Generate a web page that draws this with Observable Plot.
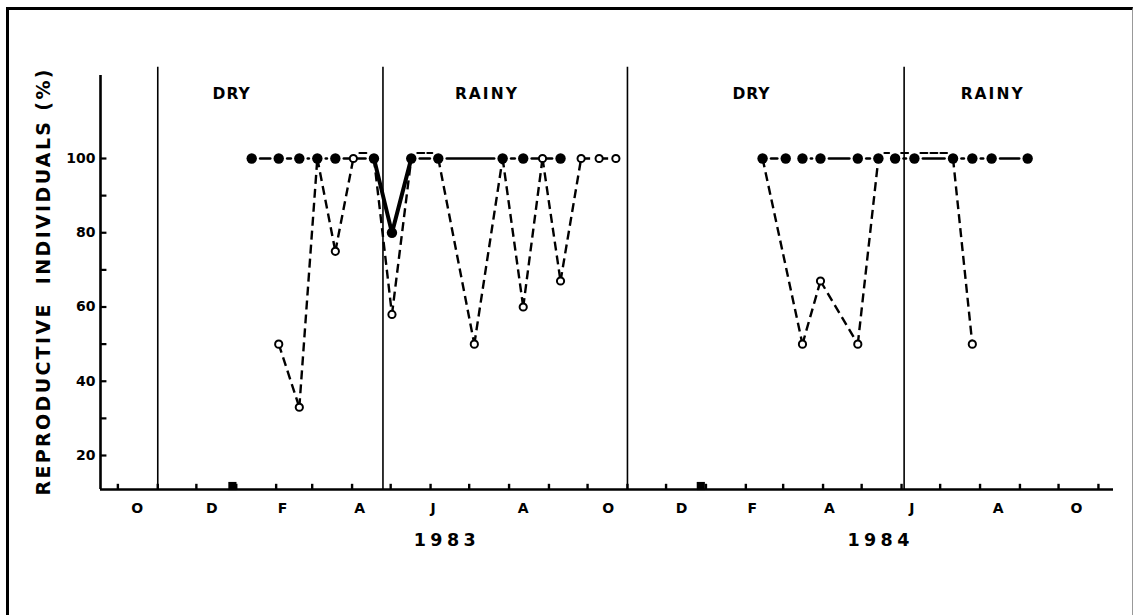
<!DOCTYPE html>
<html>
<head>
<meta charset="utf-8">
<script src="https://cdn.jsdelivr.net/npm/d3@7"></script>
<script src="https://cdn.jsdelivr.net/npm/@observablehq/plot@0.6"></script>
<style>
html, body { margin: 0; padding: 0; background: #fff; }
#wrap { position: relative; width: 1133px; height: 615px; overflow: hidden; }
#border { position: absolute; left: 6px; top: 7px; width: 1127px; height: 640px; box-sizing: border-box;
  border-left: 3px solid #000; border-top: 3px solid #000; border-right: 1px solid #999; }
#chart { position: absolute; left: 0; top: 0; }
#chart svg text { font-family: "DejaVu Sans", "Liberation Sans", sans-serif; font-weight: bold; fill: #000; }
</style>
</head>
<body>
<div id="wrap"><div id="border"></div><div id="chart"></div></div>
<script>
// ---- data ----
const filledDates = ["1983-01-13","1983-02-03","1983-02-19","1983-03-05","1983-03-19","1983-04-18","1983-05-02","1983-05-17","1983-06-07","1983-07-27","1983-08-12","1983-09-10",
  "1984-02-14","1984-03-03","1984-03-16","1984-03-30","1984-04-28","1984-05-14","1984-05-27","1984-06-11","1984-07-11","1984-07-26","1984-08-10","1984-09-07"];
const filledValues = [100,100,100,100,100,100,80,100,100,100,100,100,
  100,100,100,100,100,100,100,100,100,100,100,100];

const openDates = ["1983-02-03","1983-02-19","1983-03-05","1983-03-19","1983-04-02","1983-04-18","1983-05-02","1983-05-17","1983-06-07","1983-07-05","1983-07-27","1983-08-12","1983-08-27","1983-09-10","1983-09-26","1983-10-10","1983-10-23",
  "1984-02-14","1984-03-16","1984-03-30","1984-04-28","1984-05-14","1984-05-27","1984-06-11","1984-07-11","1984-07-26"];
const openValues = [50,33,100,75,100,100,58,100,100,50,100,60,100,67,100,100,100,
  100,50,67,50,100,100,100,100,50];

const seasonStarts = ["1982-11-01","1983-04-25","1983-11-01","1984-06-03"];
const seasonNames = ["DRY","RAINY","DRY","RAINY"];
const seasonLabelDates = ["1982-12-28","1983-07-14","1984-02-05","1984-08-10"];

const yearNames = ["1983","1984"];
const yearLabelDates = ["1983-06-12","1984-05-14"];

const markerDates = ["1982-12-29","1983-12-28"]; // black squares on the time axis

const monthLabelDates = ["1982-10-16","1982-12-13","1983-02-06","1983-04-07","1983-06-03","1983-08-12","1983-10-17",
  "1983-12-13","1984-02-06","1984-04-06","1984-06-09","1984-08-15","1984-10-15"];
const monthLetters = "JFMAMJJASOND";

const yTickValues = [20,30,40,50,60,70,80,90,100];
const yTickLabels = [20,40,60,80,100];
const yTitle = "REPRODUCTIVE  INDIVIDUALS (%)";

// ---- build ----
const parse = d3.utcParse("%Y-%m-%d");
const filled = filledDates.map((d, i) => ({date: parse(d), value: filledValues[i]}));
const open = openDates.map((d, i) => ({date: parse(d), value: openValues[i]}));

function segments(pts) {
  const s = [];
  for (let i = 1; i < pts.length; i++) {
    const a = pts[i - 1], b = pts[i];
    if ((b.date - a.date) / 864e5 < 60) s.push({a, b});
  }
  return s;
}
const filled100 = new Set(filled.filter(p => p.value === 100).map(p => +p.date));
const filledSegs = segments(filled);
const filledNormal = filledSegs.filter(s => s.a.value === 100 && s.b.value === 100);
const filledDip = filledSegs.filter(s => s.a.value !== 100 || s.b.value !== 100);
const openSegs = segments(open);
const isOverlap = s => s.a.value === 100 && s.b.value === 100 && (filled100.has(+s.a.date) || filled100.has(+s.b.date));
const openNormal = openSegs.filter(s => !isOverlap(s));
const openOver = openSegs.filter(isOverlap);

const xDomain = [new Date(Date.UTC(1982, 8, 17, 12)), new Date(Date.UTC(1984, 10, 12, 17))];
const yDomain = [10.842, 122.357];
const monthTicks = d3.utcMonth.range(parse("1982-10-01"), parse("1984-11-02"));

const seg = {x1: s => s.a.date, y1: s => s.a.value, x2: s => s.b.date, y2: s => s.b.value};

const chart = Plot.plot({
  width: 1133,
  height: 615,
  marginLeft: 100,
  marginRight: 20,
  marginTop: 75,
  marginBottom: 126,
  style: {background: "transparent", color: "#000"},
  x: {type: "utc", domain: xDomain},
  y: {domain: yDomain},
  marks: [
    // season boundaries
    Plot.ruleX(seasonStarts.map(parse), {y1: yDomain[0], y2: 124.6, stroke: "#000", strokeWidth: 1.6}),
    // axes lines
    Plot.ruleY([yDomain[0]], {stroke: "#000", strokeWidth: 2.6}),
    Plot.ruleX([xDomain[0]], {stroke: "#000", strokeWidth: 2.6}),
    // month ticks (upward)
    Plot.ruleX(monthTicks, {y1: yDomain[0], y2: yDomain[0] + 1.4, stroke: "#000", strokeWidth: 2.4}),
    // y ticks (inward)
    Plot.ruleY(yTickValues, {x1: xDomain[0], x2: d3.utcDay.offset(xDomain[0], 5), stroke: "#000", strokeWidth: 2.2}),
    Plot.axisY({ticks: yTickLabels, tickSize: 0, tickPadding: 5, label: null, fontSize: 14}),
    Plot.axisX({ticks: monthLabelDates.map(parse), tickFormat: d => monthLetters[d.getUTCMonth()], tickSize: 0, tickPadding: 14, label: null, fontSize: 14}),
    // squares on axis
    Plot.dot(markerDates.map(parse), {x: d => d, frameAnchor: "bottom", symbol: "square", r: 4.6, fill: "#000", dy: -3.5}),
    // open series dashed lines
    Plot.link(openNormal, {...seg, stroke: "#000", strokeWidth: 2.4, strokeDasharray: "9,5"}),
    Plot.arrow(openOver, {...seg, headLength: 0, inset: 6, dy: -5.5, stroke: "#000", strokeWidth: 2, strokeDasharray: "7,3"}),
    // filled series connectors
    Plot.arrow(filledNormal, {...seg, headLength: 0, inset: 8.5, stroke: "#000", strokeWidth: 2.7}),
    Plot.arrow(filledDip, {...seg, headLength: 0, inset: 4, stroke: "#000", strokeWidth: 4}),
    // markers
    Plot.dot(open, {x: "date", y: "value", r: 3.6, fill: "#fff", stroke: "#000", strokeWidth: 2}),
    Plot.dot(filled, {x: "date", y: "value", r: 5.2, fill: "#000", stroke: "none"}),
    // texts
    Plot.text(seasonNames, {x: (d, i) => parse(seasonLabelDates[i]), text: d => d, frameAnchor: "top", lineAnchor: "middle", dy: 19, fontSize: 15.5}),
    Plot.text(yearNames, {x: (d, i) => parse(yearLabelDates[i]), text: d => d, frameAnchor: "bottom", lineAnchor: "middle", dy: 51, fontSize: 17.5}),
    Plot.text([yTitle], {text: d => d, frameAnchor: "left", textAnchor: "middle", lineAnchor: "middle", rotate: -90, dx: -57, fontSize: 19})
  ]
});
document.getElementById("chart").appendChild(chart);

// stretch the lettering to the wide hand-lettered widths of the original
const targetLength = new Map([
  ...yearNames.map(s => [s, 62]),
  ["DRY", 37], ["RAINY", 62],
  [yTitle, 426]
]);
chart.querySelectorAll("text").forEach(t => {
  const L = targetLength.get(t.textContent);
  if (L) { t.setAttribute("textLength", L); t.setAttribute("lengthAdjust", "spacing"); }
});
</script>
</body>
</html>
